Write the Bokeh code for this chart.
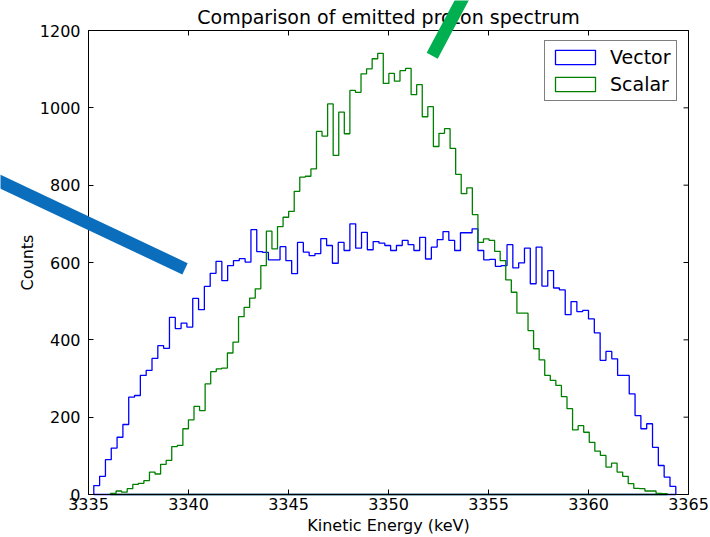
import numpy as np
from bokeh.plotting import figure
from bokeh.models import Range1d, FixedTicker, Legend, LegendItem, Arrow, Label
from bokeh.embed import file_html
from bokeh.resources import INLINE

# ---------------- data ----------------
title_text = "Comparison of emitted proton spectrum"
x_label = "Kinetic Energy (keV)"
y_label = "Counts"
series_names = ["Vector", "Scalar"]
series_colors = ["#0000ff", "#008000"]

# histogram ranges (first and last bin edge, keV); 100 equal bins each
vector_range = [3335.265, 3364.365]
scalar_range = [3336.1, 3363.935]

vector_counts = [23, 47, 90, 120, 148, 181, 252, 256, 308, 321,
                 352, 385, 378, 458, 429, 443, 433, 507, 478, 538,
                 572, 603, 553, 592, 605, 610, 601, 685, 628, 626,
                 607, 607, 641, 605, 571, 652, 627, 618, 623, 662,
                 644, 598, 652, 631, 700, 637, 678, 633, 654, 650,
                 644, 631, 644, 657, 646, 631, 665, 609, 640, 659,
                 680, 657, 631, 677, 677, 687, 631, 607, 608, 590,
                 592, 646, 586, 599, 637, 545, 640, 539, 579, 534,
                 529, 465, 499, 473, 476, 454, 418, 347, 370, 351,
                 308, 308, 260, 204, 170, 183, 122, 75, 45, 21]

scalar_counts = [3, 9, 6, 15, 26, 29, 36, 58, 53, 78,
                 88, 124, 127, 170, 193, 228, 217, 286, 318, 325,
                 327, 366, 394, 460, 484, 508, 532, 592, 681, 635,
                 693, 717, 732, 784, 821, 823, 842, 939, 927, 1010,
                 877, 989, 933, 1045, 1040, 1088, 1101, 1127, 1141, 1063,
                 1089, 1069, 1096, 1102, 1034, 1060, 977, 1003, 900, 934,
                 946, 895, 828, 778, 793, 724, 652, 661, 657, 629,
                 605, 555, 523, 469, 469, 424, 377, 348, 308, 295,
                 282, 253, 222, 167, 178, 161, 135, 112, 101, 71,
                 81, 58, 47, 28, 16, 15, 9, 9, 3, 2]

x_ticks = [3335, 3340, 3345, 3350, 3355, 3360, 3365]
y_ticks = [0, 200, 400, 600, 800, 1000, 1200]

# two thick marker strokes drawn over the picture (canvas pixels)
stroke_colors = ["#0a6ebd", "#00b050"]
stroke_x = [[-10, 184.5], [463.5, 431.7]]
stroke_y = [[176.5, 268.3], [-4.5, 55.3]]

# ---------------- layout (pixels) ----------------
W, H = 710, 537
BOX_L, BOX_R, BOX_T, BOX_B = 88, 688, 30, 494   # axes box on the canvas


def step_outline(rng, counts):
    edges = np.linspace(rng[0], rng[1], len(counts) + 1)
    xs = np.repeat(edges, 2)
    ys = np.concatenate([[0], np.repeat(np.asarray(counts, float), 2), [0]])
    return xs, ys


x0, x1 = x_ticks[0], x_ticks[-1]
y0, y1 = y_ticks[0], y_ticks[-1]
kx = (x1 - x0) / (BOX_R - BOX_L)      # data per pixel
ky = (y1 - y0) / (BOX_B - BOX_T)
x_rng = Range1d(x0 - BOX_L * kx, x1 + (W - BOX_R) * kx)
y_rng = Range1d(y0 - (H - BOX_B) * ky, y1 + BOX_T * ky)

FONT = "DejaVu Sans"

p = figure(width=W, height=H, x_range=x_rng, y_range=y_rng,
           output_backend="svg", toolbar_location=None, title_location=None,
           min_border=0, background_fill_color="white", border_fill_color="white",
           outline_line_color=None)
p.grid.visible = False

xa, ya = p.xaxis[0], p.yaxis[0]
xa.fixed_location = y0
xa.bounds = (x0, x1)
ya.fixed_location = x0
ya.bounds = (y0, y1)
for ax in (xa, ya):
    ax.axis_line_color = "black"
    ax.major_tick_in = 5
    ax.major_tick_out = 0
    ax.major_tick_line_color = "black"
    ax.minor_tick_line_color = None
    ax.major_label_text_font = FONT
    ax.major_label_text_font_size = "16px"
    ax.major_label_text_color = "black"
xa.ticker = FixedTicker(ticks=x_ticks)
ya.ticker = FixedTicker(ticks=y_ticks)
xa.major_label_standoff = 3
ya.major_label_standoff = 8

items = []
for name, color, rng, counts in zip(series_names, series_colors,
                                    [vector_range, scalar_range],
                                    [vector_counts, scalar_counts]):
    xs, ys = step_outline(rng, counts)
    r = p.patch(xs, ys, fill_color=None, line_color=color, line_width=1.3)
    items.append(LegendItem(label=name, renderers=[r]))

# top and right edges of the axes box, and mirrored inward ticks there
p.ray(x=[x0], y=[y1], length=BOX_R - BOX_L, length_units="screen",
      angle=0, line_color="black", line_width=1)
p.ray(x=[x1], y=[y0], length=BOX_B - BOX_T, length_units="screen",
      angle=np.pi / 2, line_color="black", line_width=1)
p.ray(x=x_ticks, y=[y1] * len(x_ticks), length=5, length_units="screen",
      angle=-np.pi / 2, line_color="black", line_width=1)
p.ray(x=[x1] * len(y_ticks), y=y_ticks, length=5, length_units="screen",
      angle=np.pi, line_color="black", line_width=1)

# texts
p.add_layout(Label(x=(x0 + x1) / 2, y=y1, y_offset=13.5, text=title_text,
                   text_align="center", text_baseline="alphabetic",
                   text_font=FONT, text_font_size="19px", text_color="black"))
p.add_layout(Label(x=(x0 + x1) / 2, y=y0, y_offset=-21, text=x_label,
                   text_align="center", text_baseline="top",
                   text_font=FONT, text_font_size="16px", text_color="black"))
p.add_layout(Label(x=x0, y=(y0 + y1) / 2, x_offset=-61, text=y_label, angle=np.pi / 2,
                   text_align="center", text_baseline="middle",
                   text_font=FONT, text_font_size="16px", text_color="black"))

legend = Legend(items=items, location=(544, H - 101), padding=5, spacing=5,
                glyph_width=50, glyph_height=18, label_standoff=10,
                label_text_font=FONT, label_text_font_size="19px", label_text_color="black",
                border_line_color="black", border_line_width=1,
                background_fill_color="white", background_fill_alpha=1.0)
p.add_layout(legend)

for c, sx, sy in zip(stroke_colors, stroke_x, stroke_y):
    p.add_layout(Arrow(end=None, x_start=sx[0], y_start=sy[0], x_end=sx[1], y_end=sy[1],
                       start_units="canvas", end_units="canvas",
                       line_color=c, line_width=12.5, level="overlay"))

open("out.html", "w").write(file_html(p, INLINE, title=title_text))
